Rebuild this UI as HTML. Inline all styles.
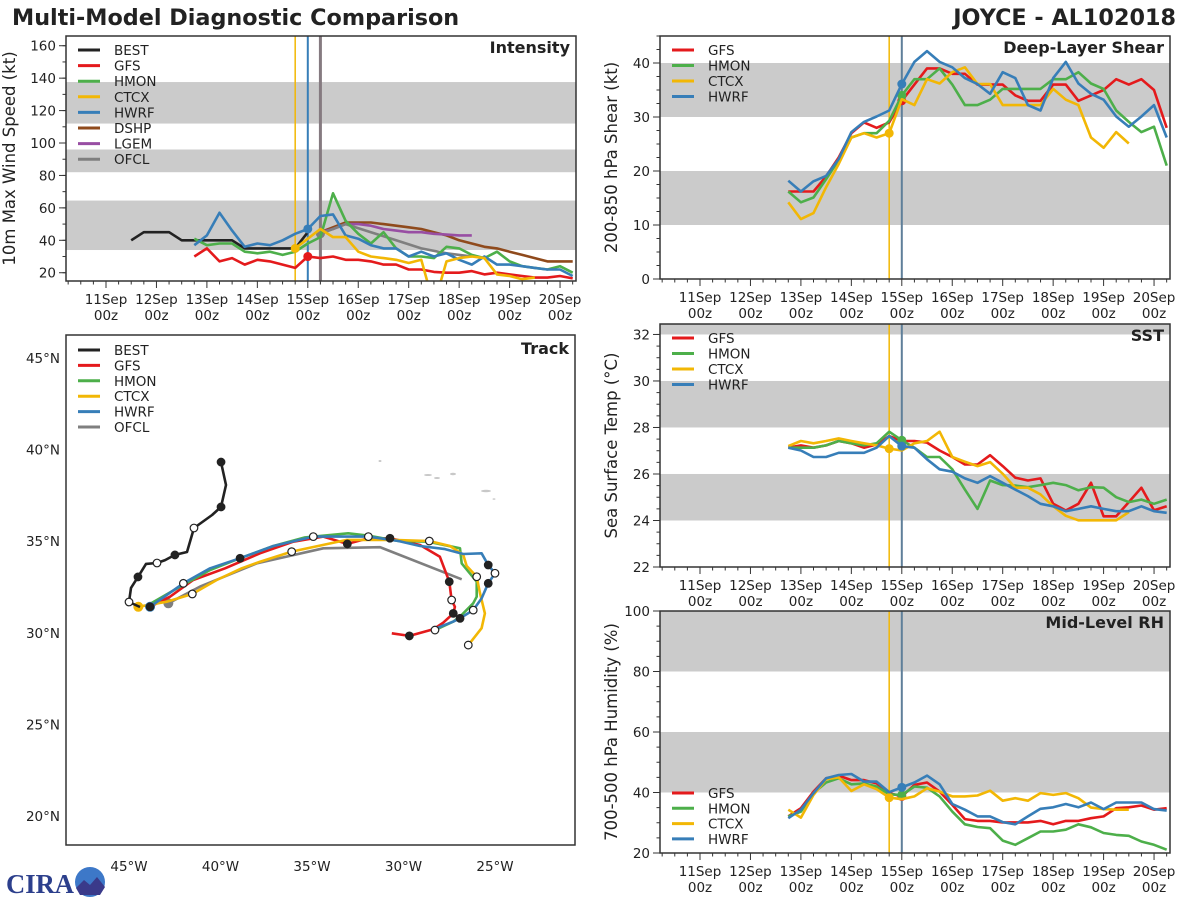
<!DOCTYPE html>
<html><head><meta charset="utf-8"><style>
html,body{margin:0;padding:0;background:#fff;}
svg{display:block;font-family:"DejaVu Sans","Liberation Sans",sans-serif;}
</style></head><body>
<svg id="chart" width="1200" height="900" viewBox="0 0 1200 900" xmlns="http://www.w3.org/2000/svg">
<text x="12" y="25" font-size="22.3" font-weight="bold" fill="#222">Multi-Model Diagnostic Comparison</text>
<text x="1176" y="25" font-size="22.3" font-weight="bold" fill="#222" text-anchor="end">JOYCE - AL102018</text>
<g>
<text x="6" y="893" font-size="27" font-weight="bold" fill="#2c3f8c" font-family="Liberation Serif, serif" textLength="68" lengthAdjust="spacingAndGlyphs">CIRA</text>
<circle cx="90" cy="882" r="15" fill="#3d78c8"/>
<path d="M76 888 L84 880 L90 885 L97 877 L105 887 L100 895 L80 895 Z" fill="#3a3a8a"/>
</g>
</svg>
<script>
// ---------- DATA ----------
const dayLabels = ['11Sep','12Sep','13Sep','14Sep','15Sep','16Sep','17Sep','18Sep','19Sep','20Sep'];
const intTicks = [20,40,60,80,100,120,140,160];
const shearTicks = [0,10,20,30,40];
const sstTicks = [22,24,26,28,30,32];
const rhTicks = [20,40,60,80,100];

const intBEST = [40,45,45,45,40,40,40,40,40,35,35,35,35,35,45];
const intGFS  = [30,35,27,29,25,28,27,25,23,30,29,30,28,28,27,25,25,22,22,20.5,20,20,21,19,20,19,18,17,17,18,16.5];
const intHMON = [41,37,38,38,33,32,33,31,33,38,42,69,52,44,38,45,35,30,30,29,36,35,31,29,33,27,24,23,22,24,20];
const intCTCX = [35,41,47,42,42,33,30,29,28,26,28,0,27,29,30,29,19,18,16,17];
const intHWRF = [37,43,57,46,36,38,37,40,44,47,55,56,43,41,37,35,35,30,33,30,32,28,25,30,25,25,24,23,22,22,18];
const intDSHP = [45,48,51,51,51,50,49,48,47,45,43,40,38,36,35,33,31,29,27,27,27];
const intLGEM = [45,47,50,50,49,47,46,45,45,44,43.5,43,43];
const intOFCL = [44,50,45,40,35,32,30];

const shGFS  = [16.2,16.2,16.2,19,22.5,27,29,28,29,33,36,39,39,38,38,36,36,36,34,33,33,36,36,33,34,35,37,36,37,35,28];
const shHMON = [16.2,14.2,15.1,18.5,22,26.2,27,27,29.3,34,37,37,39,36,32.2,32.2,33.2,35.2,35.2,35.2,35.2,37,37,38.3,36.2,35.2,31.2,29.1,27.2,28.2,21];
const shCTCX = [14.2,11.1,12.2,17,21.3,26.2,27,26.2,27,33.3,32.2,37,36.2,38.3,39.2,36.1,36.1,32.2,32.2,32.2,32.2,35.2,33.2,32.2,26.2,24.3,27.2,25.1];
const shHWRF = [18.2,16.2,18.1,19.1,22.2,27.2,29.1,30.1,31.2,36.1,40.2,42.2,40.2,39.2,37.2,36.1,34.3,38.3,37.2,32.2,31.2,37.2,40.2,36.2,34.3,33.2,30.1,28.2,30.1,32.2,26.2];

const sstGFS  = [27.13,27.23,27.13,27.23,27.42,27.32,27.13,27.27,27.63,27.42,27.42,27.35,27.01,26.73,26.41,26.41,26.81,26.34,25.84,25.72,25.81,24.72,24.43,24.72,25.62,24.18,24.18,24.79,25.41,24.44,24.61];
const sstHMON = [27.13,27.13,27.13,27.23,27.42,27.32,27.23,27.32,27.82,27.45,27.13,26.73,26.73,26.2,25.33,24.5,25.72,25.52,25.5,25.43,25.52,25.62,25.52,25.3,25.43,25.41,25,24.79,24.9,24.72,24.9];
const sstCTCX = [27.2,27.42,27.32,27.42,27.53,27.42,27.32,27.23,27.09,27.01,27.32,27.42,27.82,26.73,26.53,26.34,26.51,26.01,25.41,25.41,25.12,24.61,24.2,24.01,24.01,24.01,24.01,24.36];
const sstHWRF = [27.13,27.01,26.73,26.73,26.91,26.91,26.91,27.13,27.63,27.2,27.13,26.63,26.2,26.1,25.81,25.62,25.91,25.62,25.33,25.05,24.72,24.61,24.4,24.5,24.61,24.5,24.4,24.4,24.61,24.4,24.33];

const rhGFS  = [32.1,34.8,40.3,44.7,45.6,44.1,44.1,43,39.8,38.7,42.5,43.3,40.3,35.9,31.2,30.6,30.6,30.1,30.1,30.1,30.6,29.5,30.6,30.6,31.5,32.1,34.8,35.1,35.7,34.3,34.8];
const rhHMON = [32.1,33.7,39.8,43.3,44.7,42.7,43,42,39.4,39.2,42,41.6,38.7,33.7,29.5,28.6,28.2,24.1,22.7,24.9,27.1,27.1,27.7,29.5,28.5,26.6,26,25.7,23.8,22.7,21.1];
const rhCTCX = [34.3,31.7,39.2,44.4,45,40.5,42.7,41.1,38.3,37.8,38.7,41.4,40.3,38.7,38.7,39,40.6,37.3,38.1,37.3,39.8,39.2,39.8,38.1,35,34.5,34.3,34.3];
const rhHWRF = [31.5,34.3,39.8,44.7,45.8,46.1,43.6,43.6,40.1,41.7,43.3,45.6,42.7,36.2,34.3,32.1,32.1,30.2,29.5,32.1,34.6,35.1,36.2,35.1,36.7,34.5,36.7,36.7,36.7,34.5,34];

// track (deg W, deg N)
const trkBESTlon = [39.97,39.70,39.97,40.46,41.45,41.83,42.49,43.03,43.47,44.07,44.51,44.89,45.0,44.40];
const trkBESTlat = [39.32,38.07,36.87,36.43,35.72,34.41,34.25,33.97,33.81,33.76,33.05,32.45,31.68,31.41];
const trkGFSlon = [43.85,42.76,41.49,39.75,37.84,36.02,34.38,33.07,31.92,30.74,29.10,28.01,27.50,27.37,27.19,27.28,27.83,28.37,29.68,30.64];
const trkGFSlat = [31.42,31.97,32.88,33.52,34.34,34.97,35.25,34.85,35.16,35.16,34.79,34.15,32.79,31.79,31.42,31.06,30.55,30.19,29.83,29.97];
const trkHMONlon = [43.95,42.21,40.57,38.93,37.11,35.38,33.02,31.92,30.28,28.64,26.91,26.82,26.0,26.0,26.19,26.91,27.28,28.28];
const trkHMONlat = [31.52,32.52,33.43,34.07,34.74,35.21,35.43,35.30,35.01,34.97,34.61,33.79,32.79,31.97,31.61,30.88,30.61,30.15];
const trkHWRFlon = [43.85,42.03,40.57,38.93,37.11,34.93,31.92,30.28,29.10,27.73,26.73,25.73,25.37,25.0,25.37,25.73,26.19,26.91,27.28,28.19];
const trkHWRFlat = [31.42,32.70,33.52,34.07,34.74,35.25,35.25,35.01,34.74,34.57,34.30,34.34,33.70,33.25,32.70,31.88,31.24,30.79,30.61,30.25];
const trkCTCXlon = [44.49,42.94,41.54,40.21,38.84,37.84,36.11,33.10,30.56,28.59,27.46,26.73,26.55,26.0,25.82,25.55,25.73,26.46];
const trkCTCXlat = [31.42,31.70,32.12,32.88,33.52,33.88,34.43,35.07,35.07,35.01,34.74,34.25,33.65,33.06,32.16,31.06,30.25,29.33];
const trkOFCLlon = [42.85,41.12,38.02,34.38,31.28,26.82];
const trkOFCLlat = [31.61,32.52,33.79,34.61,34.67,32.92];
const lonTicks = [45,40,35,30,25];
const latTicks = [45,40,35,30,25,20];

// ---------- RENDER ----------
const NS = 'http://www.w3.org/2000/svg';
const svg = document.getElementById('chart');
function mk(tag, attrs, parent) {
  const e = document.createElementNS(NS, tag);
  for (const k in attrs) e.setAttribute(k, attrs[k]);
  (parent || svg).appendChild(e);
  return e;
}
const COL = {BEST:'#222222', GFS:'#e41a1c', HMON:'#4daf4a', CTCX:'#f2b705', HWRF:'#377eb8', DSHP:'#8f4a1c', LGEM:'#984ea3', OFCL:'#7f7f7f'};
const DAY = 50.45;
let clipId = 0;

function panel(cfg) {
  const g = mk('g', {});
  
  
  const tx = cfg.tx0;
  const xOf = t => tx + t * DAY;
  const yOf = v => cfg.y1 - (v - cfg.vmin) / (cfg.vmax - cfg.vmin) * (cfg.y1 - cfg.y0);
  cfg.bands.forEach(b => {
    const top = Math.max(yOf(b[1]), cfg.y0), bot = Math.min(yOf(b[0]), cfg.y1);
    const r = mk('rect', {x: cfg.x0, y: top, width: cfg.x1 - cfg.x0, height: bot - top, fill: '#cbcbcb'}, g);
    
    
  });
  clipId++;
  const cp = mk('clipPath', {id: 'cp' + clipId}, g);
  mk('rect', {x: cfg.x0, y: cfg.y0, width: cfg.x1 - cfg.x0, height: cfg.y1 - cfg.y0}, cp);
  const plot = mk('g', {'clip-path': 'url(#cp' + clipId + ')'}, g);
  cfg.vlines.forEach(v => {
    const l = mk('line', {x1: xOf(v[0]), x2: xOf(v[0]), y1: cfg.y0, y2: cfg.y1, stroke: v[1], 'stroke-width': v[2]}, plot);
    
    
  });
  cfg.series.forEach(s => {
    const pts = s.vals.map((v, i) => xOf(s.times ? s.times[i] : s.t0 + i * 0.25).toFixed(1) + ',' + yOf(v).toFixed(1));
    const p = mk('polyline', {points: pts.join(' '), fill: 'none', stroke: COL[s.key], 'stroke-width': 2.6, 'stroke-linejoin': 'round'}, plot);
    
    
    if (s.mark !== undefined) {
      const t = s.times ? s.times[s.mark] : s.t0 + s.mark * 0.25;
      const c = mk('circle', {cx: xOf(t), cy: yOf(s.vals[s.mark]), r: 4.5, fill: COL[s.key]}, plot);
      
      
    }
  });
  const fr = mk('rect', {x: cfg.x0, y: cfg.y0, width: cfg.x1 - cfg.x0, height: cfg.y1 - cfg.y0, fill: 'none', stroke: '#333', 'stroke-width': 1.5}, g);
  
  
  for (let q = -3; q <= 38; q++) {
    const x = xOf(q * 0.25);
    if (x < cfg.x0 || x > cfg.x1) continue;
    const major = q % 4 === 0;
    mk('line', {x1: x, x2: x, y1: cfg.y1, y2: cfg.y1 + (major ? 7 : 3.5), stroke: '#333', 'stroke-width': 1}, g);
  }
  dayLabels.forEach((d, i) => {
    const x = xOf(i);
    const t1 = mk('text', {x: x, y: cfg.y1 + 23, 'font-size': 13.5, 'text-anchor': 'middle', fill: '#222'}, g);
    t1.textContent = d;
    
    
    const t2 = mk('text', {x: x, y: cfg.y1 + 39, 'font-size': 13.5, 'text-anchor': 'middle', fill: '#222'}, g);
    t2.textContent = '00z';
    
    
  });
  for (let v = cfg.vmin - (cfg.vmin % cfg.minor); v <= cfg.vmax; v += cfg.minor) {
    const y = yOf(v);
    if (y < cfg.y0 - 0.5 || y > cfg.y1 + 0.5) continue;
    mk('line', {x1: cfg.x0 - 3.5, x2: cfg.x0, y1: y, y2: y, stroke: '#333', 'stroke-width': 1}, g);
  }
  cfg.ticks.forEach(v => {
    const y = yOf(v);
    mk('line', {x1: cfg.x0 - 7, x2: cfg.x0, y1: y, y2: y, stroke: '#333', 'stroke-width': 1}, g);
    const t = mk('text', {x: cfg.x0 - 10, y: y + 5, 'font-size': 13.5, 'text-anchor': 'end', fill: '#222'}, g);
    t.textContent = v;
    
    
  });
  const yc = (cfg.y0 + cfg.y1) / 2;
  const yt = mk('text', {x: cfg.ytx, y: yc, 'font-size': 16.5, 'text-anchor': 'middle', fill: '#222', transform: 'rotate(-90 ' + cfg.ytx + ' ' + yc + ')'}, g);
  yt.textContent = cfg.ytitle;
  
  
  const pt = mk('text', {x: cfg.x1 - 6, y: cfg.y0 + 17, 'font-size': 16, 'font-weight': 'bold', 'text-anchor': 'end', fill: '#222'}, g);
  pt.textContent = cfg.title;
  
  
  cfg.legend.forEach((k, i) => {
    const y = cfg.legY + i * cfg.legDy;
    const lg = mk('g', {}, g);
    
    
    mk('line', {x1: cfg.x0 + 12, x2: cfg.x0 + 34, y1: y, y2: y, stroke: COL[k], 'stroke-width': 3}, lg);
    const t = mk('text', {x: cfg.x0 + 48, y: y + 5, 'font-size': 13.5, fill: '#222'}, lg);
    t.textContent = k;
  });
}

const L = {x0: 66, x1: 576, tx0: 106};
const R = {x0: 660, x1: 1170, tx0: 700};

panel({name: 'intensity', x0: L.x0, x1: L.x1, tx0: L.tx0, y0: 36, y1: 281, vmin: 14.9, vmax: 166, minor: 10,
  ticks: intTicks, bands: [[34,64.5],[82,96],[112,137.6]], ytitle: '10m Max Wind Speed (kt)', ytx: 15, title: 'Intensity',
  vlines: [[3.75,'#f2b705',1.5],[4.0,'#377eb8',2],[4.25,'#857a80',3]],
  legend: ['BEST','GFS','HMON','CTCX','HWRF','DSHP','LGEM','OFCL'], legY: 50, legDy: 15.6,
  series: [
    {key:'BEST', vals: intBEST, t0: 0.5},
    {key:'DSHP', vals: intDSHP, t0: 4.25},
    {key:'LGEM', vals: intLGEM, t0: 4.25},
    {key:'OFCL', vals: intOFCL, times: [4.25,4.75,5.25,5.75,6.25,6.75,7.25], mark: 0},
    {key:'GFS', vals: intGFS, t0: 1.75, mark: 9},
    {key:'HMON', vals: intHMON, t0: 1.75},
    {key:'HWRF', vals: intHWRF, t0: 1.75, mark: 9},
    {key:'CTCX', vals: intCTCX, t0: 3.75, mark: 0}
  ]});

const rv = [[3.75,'#f2b705',1.5],[4.0,'#5f7f99',2]];
panel({name: 'shear', x0: R.x0, x1: R.x1, tx0: R.tx0, y0: 36, y1: 279, vmin: 0, vmax: 45, minor: 2.5,
  ticks: shearTicks, bands: [[10,20],[30,40]], ytitle: '200-850 hPa Shear (kt)', ytx: 617, title: 'Deep-Layer Shear',
  vlines: rv, legend: ['GFS','HMON','CTCX','HWRF'], legY: 50, legDy: 15.5,
  series: [
    {key:'GFS', vals: shGFS, t0: 1.75, mark: 9},
    {key:'HMON', vals: shHMON, t0: 1.75, mark: 9},
    {key:'CTCX', vals: shCTCX, t0: 1.75, mark: 8},
    {key:'HWRF', vals: shHWRF, t0: 1.75, mark: 9}
  ]});

panel({name: 'sst', x0: R.x0, x1: R.x1, tx0: R.tx0, y0: 324, y1: 567, vmin: 22, vmax: 32.45, minor: 0.5,
  ticks: sstTicks, bands: [[24,26],[28,30],[32,33]], ytitle: 'Sea Surface Temp (°C)', ytx: 617, title: 'SST',
  vlines: rv, legend: ['GFS','HMON','CTCX','HWRF'], legY: 338, legDy: 15.5,
  series: [
    {key:'GFS', vals: sstGFS, t0: 1.75, mark: 9},
    {key:'HMON', vals: sstHMON, t0: 1.75, mark: 9},
    {key:'CTCX', vals: sstCTCX, t0: 1.75, mark: 8},
    {key:'HWRF', vals: sstHWRF, t0: 1.75, mark: 9}
  ]});

panel({name: 'rh', x0: R.x0, x1: R.x1, tx0: R.tx0, y0: 611, y1: 853, vmin: 20, vmax: 100, minor: 5,
  ticks: rhTicks, bands: [[40,60],[80,100]], ytitle: '700-500 hPa Humidity (%)', ytx: 617, title: 'Mid-Level RH',
  vlines: rv, legend: ['GFS','HMON','CTCX','HWRF'], legY: 793, legDy: 15.3,
  series: [
    {key:'GFS', vals: rhGFS, t0: 1.75, mark: 9},
    {key:'HMON', vals: rhHMON, t0: 1.75, mark: 9},
    {key:'CTCX', vals: rhCTCX, t0: 1.75, mark: 8},
    {key:'HWRF', vals: rhHWRF, t0: 1.75, mark: 9}
  ]});

// ---------- TRACK ----------
(function(){
  const x0 = 66, x1 = 575, y0 = 335, y1 = 845;
  const lx = w => 129 + (45 - w) * 18.3;
  const ly = n => 358 + (45 - n) * 18.32;
  const g = mk('g', {});
  
  
  [[380,461,1.5,1],[428,475,4,1],[437,478,3,1],[453,474,3,1.2],[486,491,5,1.3],[494,499,1.5,0.8]].forEach(a => {
    const e = mk('ellipse', {cx: a[0], cy: a[1], rx: a[2], ry: a[3], fill: '#c8c8c8'}, g);
    
    
  });
  const tracks = [
    ['OFCL', trkOFCLlon, trkOFCLlat, [], true],
    ['GFS', trkGFSlon, trkGFSlat, [[0,1],[7,1],[9,1],[12,1],[13,2],[15,1],[18,1]], false],
    ['HMON', trkHMONlon, trkHMONlat, [[3,1],[17,2]], false],
    ['CTCX', trkCTCXlon, trkCTCXlat, [[2,2],[6,2],[9,2],[13,2],[17,2]], true],
    ['HWRF', trkHWRFlon, trkHWRFlat, [[1,2],[5,2],[6,2],[12,1],[13,2],[14,1],[16,2],[17,1]], true],
    ['BEST', trkBESTlon, trkBESTlat, [[0,1],[2,1],[4,2],[6,1],[8,2],[10,1],[12,2]], false]
  ];
  tracks.forEach(tr => {
    const pts = tr[1].map((w, i) => lx(w).toFixed(1) + ',' + ly(tr[2][i]).toFixed(1));
    const p = mk('polyline', {points: pts.join(' '), fill: 'none', stroke: COL[tr[0]], 'stroke-width': 2.6, 'stroke-linejoin': 'round'}, g);
    
    
    if (tr[4]) {
      const c = mk('circle', {cx: lx(tr[1][0]), cy: ly(tr[2][0]), r: 5, fill: COL[tr[0]]}, g);
      
      
    }
  });
  tracks.forEach(tr => {
    tr[3].forEach(m => {
      const c = mk('circle', {cx: lx(tr[1][m[0]]), cy: ly(tr[2][m[0]]), r: 3.8, fill: m[1] === 1 ? '#222' : '#fff', stroke: '#222', 'stroke-width': 1.2}, g);
      
      
    });
  });
  const fr = mk('rect', {x: x0, y: y0, width: x1 - x0, height: y1 - y0, fill: 'none', stroke: '#333', 'stroke-width': 1.5}, g);
  
  
  lonTicks.forEach(w => {
    const t = mk('text', {x: lx(w), y: 871, 'font-size': 13.5, 'text-anchor': 'middle', fill: '#222'}, g);
    t.textContent = w + '°W';
    
    
  });
  latTicks.forEach(n => {
    const t = mk('text', {x: 60, y: ly(n) + 5, 'font-size': 13.5, 'text-anchor': 'end', fill: '#222'}, g);
    t.textContent = n + '°N';
    
    
  });
  const pt = mk('text', {x: x1 - 6, y: y0 + 19, 'font-size': 16, 'font-weight': 'bold', 'text-anchor': 'end', fill: '#222'}, g);
  pt.textContent = 'Track';
  
  
  ['BEST','GFS','HMON','CTCX','HWRF','OFCL'].forEach((k, i) => {
    const y = 350 + i * 15.4;
    const lg = mk('g', {}, g);
    
    
    mk('line', {x1: 78, x2: 100, y1: y, y2: y, stroke: COL[k], 'stroke-width': 3}, lg);
    const t = mk('text', {x: 114, y: y + 5, 'font-size': 13.5, fill: '#222'}, lg);
    t.textContent = k;
  });
})();
</script>
</body></html>
